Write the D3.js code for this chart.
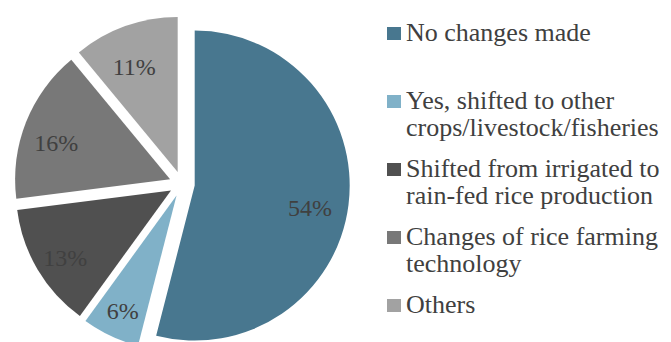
<!DOCTYPE html>
<html>
<head>
<meta charset="utf-8">
<script src="https://cdn.jsdelivr.net/npm/d3@7/dist/d3.min.js"></script>
<style>
  html, body { margin: 0; padding: 0; background: #ffffff; }
  svg { display: block; }
</style>
</head>
<body>
<svg id="chart" width="671" height="342"></svg>
<script>
// Responses: changes made to rice farming
const categories = [
  "No changes made",
  "Yes, shifted to other crops/livestock/fisheries",
  "Shifted from irrigated to rain-fed rice production",
  "Changes of rice farming technology",
  "Others"
];
const legendLines = [
  ["No changes made"],
  ["Yes, shifted to other", "crops/livestock/fisheries"],
  ["Shifted from irrigated to", "rain-fed rice production"],
  ["Changes of rice farming", "technology"],
  ["Others"]
];
const shares = [54, 6, 13, 16, 11];
const colors = ["#48778f", "#80b1c8", "#505050", "#787878", "#a2a2a2"];

const FONT = "Liberation Serif";
const W = 671, H = 342;
const cx = 182, cy = 184, radius = 155, explode = 12.8;

const svg = d3.select("#chart");

const data = categories.map((c, i) => ({ name: c, value: shares[i], color: colors[i], lines: legendLines[i] }));

const pie = d3.pie().value(d => d.value).sort(null);
const arc = d3.arc().innerRadius(0).outerRadius(radius);
const labelArc = d3.arc().innerRadius(radius * 0.77).outerRadius(radius * 0.77);

const arcs = pie(data);

const g = svg.append("g").attr("transform", `translate(${cx},${cy})`);

// every slice is pulled out a little along its bisector
const slice = g.selectAll("g.slice")
  .data(arcs)
  .join("g")
  .attr("class", "slice")
  .attr("transform", d => {
    const a = (d.startAngle + d.endAngle) / 2;
    return `translate(${explode * Math.sin(a)},${-explode * Math.cos(a)})`;
  });

slice.append("path")
  .attr("d", arc)
  .attr("fill", d => d.data.color);

// percentage labels, nudged slightly down-left of the bisector point
slice.append("text")
  .attr("transform", d => {
    const [x, y] = labelArc.centroid(d);
    return `translate(${x - 3},${y + 7})`;
  })
  .attr("text-anchor", "middle")
  .attr("dy", "0.34em")
  .attr("font-family", FONT)
  .attr("font-size", 24)
  .attr("fill", "#404040")
  .text(d => d.data.value + "%");

// Legend
const legendX = 387;
const ly = d3.scalePoint().domain(d3.range(data.length)).range([41, 313]);

const item = svg.append("g").selectAll("g")
  .data(data)
  .join("g")
  .attr("transform", (d, i) => `translate(${legendX},${ly(i)})`);

item.append("rect")
  .attr("x", 0).attr("y", -14)
  .attr("width", 14).attr("height", 13)
  .attr("fill", d => d.color);

item.append("text")
  .attr("font-family", FONT)
  .attr("font-size", 26)
  .attr("fill", "#404040")
  .selectAll("tspan")
  .data(d => d.lines)
  .join("tspan")
  .attr("x", 19)
  .attr("dy", (d, i) => i === 0 ? 0 : 26.5)
  .text(d => d);
</script>
</body>
</html>
